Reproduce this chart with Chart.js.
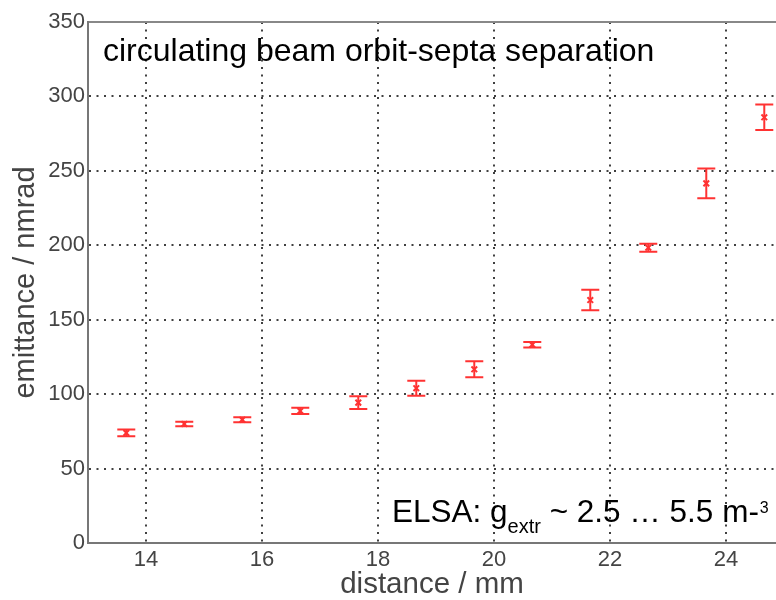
<!DOCTYPE html>
<html>
<head>
<meta charset="utf-8">
<script src="https://cdn.jsdelivr.net/npm/chart.js@4.4.1/dist/chart.umd.min.js"></script>
<style>
  html, body { margin: 0; padding: 0; background: #fff; }
  #wrap { width: 776px; height: 600px; }
</style>
</head>
<body>
<div id="wrap"><canvas id="emittance-chart" width="776" height="600"></canvas></div>
<script>
// Measured emittance vs. distance between circulating beam orbit and septa
var distance  = [13.66, 14.66, 15.66, 16.66, 17.66, 18.66, 19.66, 20.66, 21.66, 22.66, 23.66, 24.66];
var emittance = [74.0, 80.0, 82.8, 88.7, 94.3, 104.0, 116.7, 133.2, 163.2, 198.4, 241.6, 286.0];
var errors    = [2.3, 1.5, 1.6, 2.1, 4.3, 5.0, 5.4, 1.8, 6.9, 2.7, 10.0, 8.5];

var xTicks = [14, 16, 18, 20, 22, 24];
var yTicks = [0, 50, 100, 150, 200, 250, 300, 350];

var RED = 'rgb(255, 50, 50)';
var FONT = '"Liberation Sans", Arial, sans-serif';

// Draws vertical error bars with caps for every point of the dataset
var errorBars = {
    id: 'errorBars',
    afterDatasetsDraw: function(chart) {
        var x = chart.scales.x, y = chart.scales.y, ctx = chart.ctx;
        ctx.save();
        ctx.strokeStyle = RED;
        ctx.lineWidth = 2;
        for (var i = 0; i < distance.length; i++) {
            var px = x.getPixelForValue(distance[i]);
            var top = y.getPixelForValue(emittance[i] + errors[i]);
            var bot = y.getPixelForValue(emittance[i] - errors[i]);
            ctx.beginPath();
            ctx.moveTo(px, top); ctx.lineTo(px, bot);
            ctx.moveTo(px - 9, top); ctx.lineTo(px + 9, top);
            ctx.moveTo(px - 9, bot); ctx.lineTo(px + 9, bot);
            ctx.stroke();
        }
        ctx.restore();
    }
};

// Text annotations inside the plot area
var annotations = {
    id: 'annotations',
    afterDraw: function(chart) {
        var ctx = chart.ctx;
        ctx.save();
        ctx.fillStyle = '#000';
        ctx.textBaseline = 'alphabetic';
        ctx.textAlign = 'left';
        ctx.font = '32px ' + FONT;
        ctx.fillText('circulating beam orbit-septa separation', 103, 61);

        // ELSA: g_extr ~ 2.5 ... 5.5 m^-3
        var x0 = 392, base = 521.5;
        ctx.font = '31.5px ' + FONT;
        ctx.fillText('ELSA: g', x0, base);
        x0 += ctx.measureText('ELSA: g').width;
        ctx.font = '20px ' + FONT;
        ctx.fillText('extr', x0, base + 11);
        x0 += ctx.measureText('extr').width;
        ctx.font = '31.5px ' + FONT;
        var mid = ' ~ 2.5 \u2026 5.5 m-';
        ctx.fillText(mid, x0, base);
        x0 += ctx.measureText(mid).width;
        ctx.font = '16px ' + FONT;
        ctx.fillText('3', x0 + 1, base - 9);
        ctx.restore();
    }
};

var ctx = document.getElementById('emittance-chart').getContext('2d');
var emittanceChart = new Chart(ctx, {
    type: 'scatter',
    data: {
        datasets: [{
            label: 'emittance',
            data: distance.map(function(d, i) { return { x: d, y: emittance[i] }; }),
            pointStyle: 'crossRot',
            pointRadius: 4,
            pointBorderWidth: 2,
            borderColor: RED,
            backgroundColor: RED
        }]
    },
    options: {
        responsive: false,
        animation: false,
        layout: { autoPadding: false, padding: { top: 22, right: 0, left: 0, bottom: 0 } },
        plugins: {
            legend: { display: false },
            tooltip: { enabled: false }
        },
        scales: {
            x: {
                type: 'linear',
                min: 13,
                max: 24.862,
                afterBuildTicks: function(scale) {
                    scale.ticks = xTicks.map(function(v) { return { value: v }; });
                },
                afterFit: function(scale) { scale.height = 57; },
                grid: {
                    color: 'rgba(30, 30, 30, 0.85)',
                    lineWidth: 2,
                    drawTicks: false
                },
                border: { color: '#777', width: 2, dash: [2, 5.5] },
                ticks: {
                    padding: 4,
                    color: '#444',
                    font: { family: FONT, size: 22 }
                },
                title: {
                    display: true,
                    text: 'distance / mm',
                    color: '#444',
                    font: { family: FONT, size: 29.5, lineHeight: 1 },
                    padding: { top: 0, bottom: 0 }
                }
            },
            y: {
                min: 0,
                max: 350,
                afterBuildTicks: function(scale) {
                    scale.ticks = yTicks.map(function(v) { return { value: v }; });
                },
                afterFit: function(scale) { scale.width = 88; },
                grid: {
                    color: function(c) {
                        if (c.tick && c.tick.value === 0) return 'rgba(0,0,0,0)';
                        if (c.tick && c.tick.value === 350) return '#888';
                        return 'rgba(30, 30, 30, 0.85)';
                    },
                    lineWidth: 2,
                    drawTicks: false
                },
                border: {
                    color: '#777',
                    width: 2,
                    dash: function(c) {
                        return (c.tick && c.tick.value === 350) ? [] : [2, 5.5];
                    }
                },
                ticks: {
                    padding: 3,
                    color: '#444',
                    font: { family: FONT, size: 22 }
                },
                title: {
                    display: true,
                    text: 'emittance / nmrad',
                    color: '#444',
                    font: { family: FONT, size: 29, lineHeight: 1 },
                    padding: { top: 11, bottom: 0 }
                }
            }
        }
    },
    plugins: [errorBars, annotations]
});
</script>
</body>
</html>
